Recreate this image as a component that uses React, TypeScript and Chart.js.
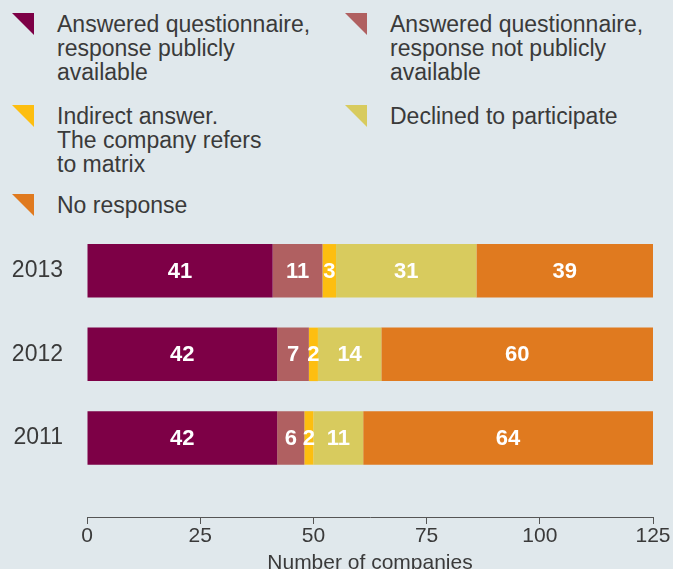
import React, { useEffect, useRef } from 'react';
import { Chart, registerables } from 'chart.js';

Chart.register(...registerables);

// ---- data ----
const years = ['2013', '2012', '2011'];
const seriesNames = [
  'Answered questionnaire,\nresponse publicly\navailable',
  'Answered questionnaire,\nresponse not publicly\navailable',
  'Indirect answer.\nThe company refers\nto matrix',
  'Declined to participate',
  'No response',
];
const seriesColors = ['#7d0046', '#b06061', '#fdbe10', '#d8cb5e', '#e07a1f'];
const publicAnswers = [41, 42, 42];
const privateAnswers = [11, 7, 6];
const indirectAnswers = [3, 2, 2];
const declinedAnswers = [31, 14, 11];
const noResponses = [39, 60, 64];
const seriesValues = [publicAnswers, privateAnswers, indirectAnswers, declinedAnswers, noResponses];
const xTickValues = [0, 25, 50, 75, 100, 125];
const axisTitle = 'Number of companies';

const FONT = '"Liberation Sans", Arial, Helvetica, sans-serif';
const BG = '#e0e8ec';
const TEXT = '#3a3a3a';

// legend placement (layout only)
const legendSpots = [
  { left: 12, top: 12 },
  { left: 345, top: 12 },
  { left: 12, top: 104 },
  { left: 345, top: 104 },
  { left: 12, top: 193 },
];

const barLabels = {
  id: 'barLabels',
  afterDatasetsDraw(chart: any) {
    const ctx = chart.ctx;
    ctx.save();
    ctx.font = `bold 22px ${FONT}`;
    ctx.fillStyle = '#ffffff';
    ctx.textAlign = 'center';
    ctx.textBaseline = 'middle';
    chart.data.datasets.forEach((ds: any, di: number) => {
      const meta = chart.getDatasetMeta(di);
      meta.data.forEach((el: any, i: number) => {
        const p = el.getCenterPoint();
        ctx.fillText(String(ds.data[i]), p.x, p.y + 1);
      });
    });
    ctx.restore();
  },
};

export default function App() {
  const ref = useRef<HTMLCanvasElement | null>(null);

  useEffect(() => {
    if (!ref.current) return;
    const chart = new Chart(ref.current, {
      type: 'bar',
      data: {
        labels: years,
        datasets: seriesNames.map((name, i) => ({
          label: name.replace(/\n/g, ' '),
          data: seriesValues[i],
          backgroundColor: seriesColors[i],
          borderWidth: 0,
          barPercentage: 0.64,
          categoryPercentage: 1,
        })),
      },
      options: {
        indexAxis: 'y',
        animation: false,
        responsive: false,
        devicePixelRatio: 1,
        layout: { padding: { top: 229, left: 12, right: 20, bottom: 0 } },
        plugins: { legend: { display: false }, tooltip: { enabled: false } },
        scales: {
          x: {
            type: 'linear',
            position: 'bottom',
            stacked: true,
            bounds: 'data',
            min: xTickValues[0],
            max: xTickValues[xTickValues.length - 1],
            afterBuildTicks: (s: any) => {
              s.ticks = xTickValues.map((v) => ({ value: v }));
            },
            ticks: {
              padding: 2,
              color: TEXT,
              font: { family: FONT, size: 21, lineHeight: 1 },
              callback: (v: any) => String(v),
            },
            grid: { drawOnChartArea: false, drawTicks: true, tickLength: 7, color: '#555' },
            border: { display: true, color: '#555', width: 1 },
            title: {
              display: true,
              text: axisTitle,
              color: TEXT,
              font: { family: FONT, size: 21, lineHeight: 1 },
              padding: { top: 4, bottom: 0 },
            },
          },
          y: {
            type: 'linear',
            stacked: true,
            offset: false,
            bounds: 'data',
            min: 2010.054,
            max: 2013.5,
            afterBuildTicks: (s: any) => {
              s.ticks = years.map((y) => ({ value: Number(y) }));
            },
            afterFit: (s: any) => {
              s.width = 75;
            },
            ticks: {
              padding: 24,
              color: TEXT,
              font: { family: FONT, size: 23 },
              callback: (v: any) => years.find((y) => Number(y) === v) ?? '',
            },
            grid: { display: false, drawTicks: false, offset: false },
            border: { display: false },
          },
        },
      } as any,
      plugins: [barLabels],
    });
    return () => chart.destroy();
  }, []);

  return (
    <div
      style={{
        position: 'fixed',
        left: 0,
        top: 0,
        width: 673,
        height: 569,
        overflow: 'hidden',
        background: BG,
        fontFamily: FONT,
      }}
    >
      {seriesNames.map((name, i) => (
        <div
          key={i}
          style={{ position: 'absolute', left: legendSpots[i].left, top: legendSpots[i].top }}
        >
          <svg width={22} height={22} style={{ position: 'absolute', left: 0, top: 1 }}>
            <polygon points="0,0 22,0 22,22" fill={seriesColors[i]} />
          </svg>
          <div
            style={{
              position: 'absolute',
              left: 45,
              top: 0,
              whiteSpace: 'pre',
              fontSize: 23,
              lineHeight: '24px',
              color: TEXT,
            }}
          >
            {name}
          </div>
        </div>
      ))}
      <canvas
        ref={ref}
        width={673}
        height={574}
        style={{ position: 'absolute', left: 0, top: 0, width: 673, height: 574 }}
      />
    </div>
  );
}
